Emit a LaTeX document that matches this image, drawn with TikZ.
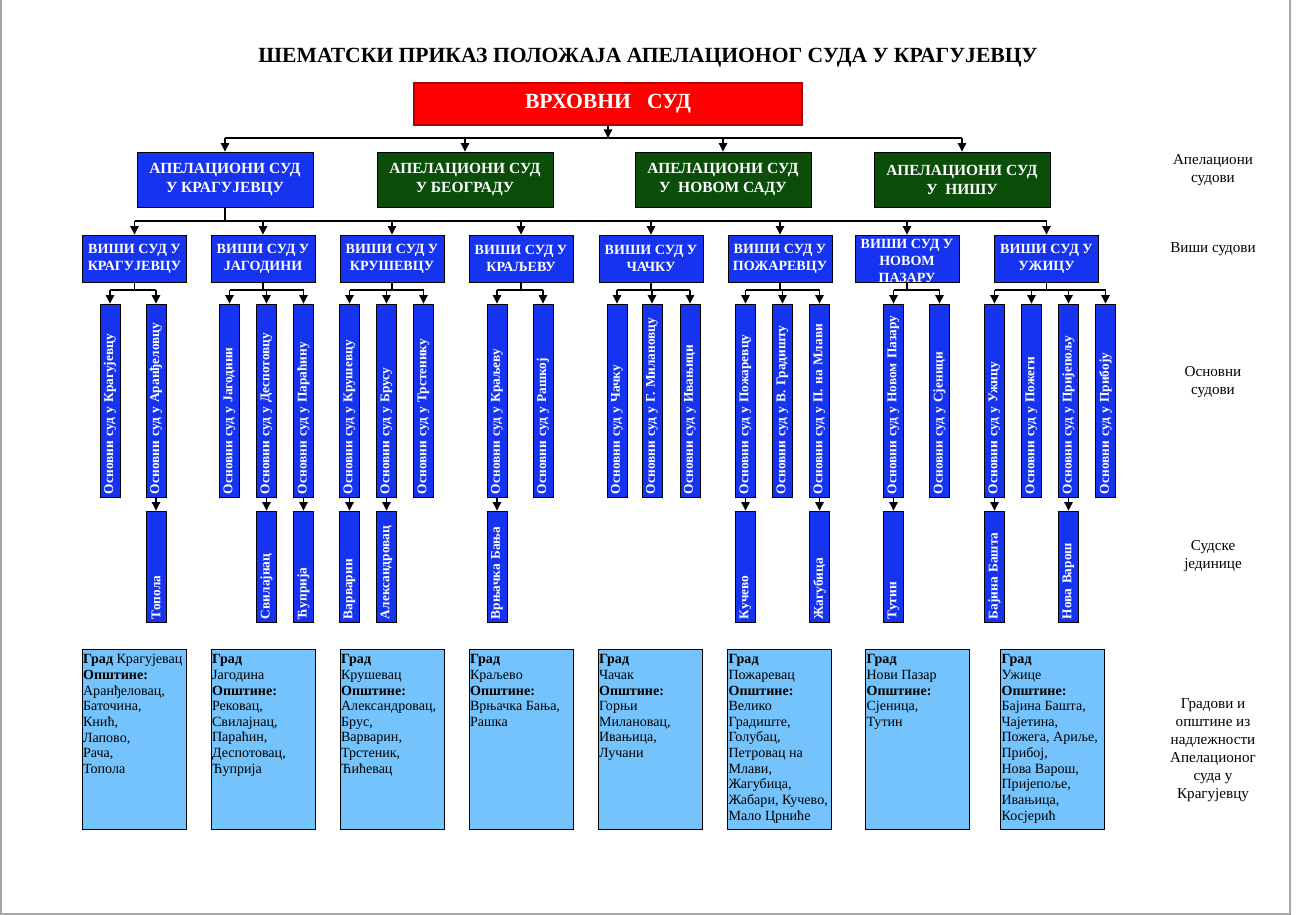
\documentclass[tikz,border=0pt]{standalone}
\usepackage{fontspec}
\setmainfont{Liberation Serif}
\usetikzlibrary{arrows.meta}

\definecolor{sudplava}{RGB}{22,52,240}
\definecolor{sudzelena}{RGB}{10,78,10}
\definecolor{gradplava}{RGB}{116,195,252}

\newcommand\uspravno[1]{\makebox[0pt][l]{#1}}

\tikzset{
  strelica/.style={-{Triangle[length=1.7mm,width=1.7mm]}},
  apel/.style={draw=black, line width=0.5pt, fill=#1, text=white, align=center,
    font=\bfseries\fontsize{8.8}{10.8}\selectfont, minimum width=35.2mm, minimum height=11mm, inner sep=0pt},
  visi/.style={draw=black, line width=0.5pt, fill=sudplava, text=white, align=center,
    font=\bfseries\fontsize{8}{9.7}\selectfont, minimum width=20.8mm, minimum height=9.4mm, inner sep=0pt},
  osn/.style={draw=black, line width=0.5pt, fill=sudplava, text=white, rotate=90,
    font=\bfseries\fontsize{7.6}{9}\selectfont, minimum height=4mm, inner ysep=0pt, inner xsep=0.6mm,
    text width=37.4mm, align=left},
  jed/.style={osn, text width=21mm},
  grad/.style={draw=black, line width=0.5pt, fill=gradplava, minimum width=20.8mm, minimum height=36mm, inner sep=0pt},
  gradtekst/.style={anchor=north west, align=left, inner xsep=0.2mm, inner ysep=1.1mm,
    font=\fontsize{8}{8.9}\selectfont},
  opis/.style={align=center, font=\fontsize{8.6}{10.2}\selectfont},
}

\begin{document}
\begin{tikzpicture}[x=0.2mm, y=-0.2mm, line width=0.6pt]
  \useasboundingbox (0,0) rectangle (1297,915);
  % rub stranice
  \draw[black!35, line width=0.8pt] (1,0) -- (1,914) -- (1290,914) -- (1290,0);

  % Naslov i Vrhovni sud
  \node[font=\bfseries\fontsize{12.3}{14}\selectfont] (naslov) at (648,58)
    {ШЕМАТСКИ ПРИКАЗ ПОЛОЖАЈА АПЕЛАЦИОНОГ СУДА У КРАГУЈЕВЦУ};
  \node[draw=red!70!black, fill=red, text=white, minimum width=77.6mm, minimum height=8.4mm,
    font=\bfseries\fontsize{12.3}{14}\selectfont] (vrhovni) at (608,104) {ВРХОВНИ\ \ \ СУД};

  % Apelacioni sudovi
  \node[apel=sudplava] (as1) at (225,179.5) {АПЕЛАЦИОНИ СУД\\У КРАГУЈЕВЦУ};
  \node[apel=sudzelena] (as2) at (465,179.5) {АПЕЛАЦИОНИ СУД\\У БЕОГРАДУ};
  \node[apel=sudzelena] (as3) at (723,179.5) {АПЕЛАЦИОНИ СУД\\У\ \ НОВОМ САДУ};
  \node[apel=sudzelena] (as4) at (962,179.5) {АПЕЛАЦИОНИ СУД\\У\ \ НИШУ};
  \coordinate (s1) at (0,138);
  \draw[strelica] (vrhovni.south) -- (vrhovni.south |- s1);
  \draw (as1.north |- s1) -- (as4.north |- s1);
  \foreach \i in {1,...,4}
    \draw[strelica] (as\i.north |- s1) -- (as\i.north);

  % Visi sudovi
  \foreach \i/\x/\ime in {1/134.5/КРАГУЈЕВЦУ, 2/263/ЈАГОДИНИ, 3/392/КРУШЕВЦУ, 4/521/КРАЉЕВУ,
      5/651/ЧАЧКУ, 6/780/ПОЖАРЕВЦУ, 8/1046.5/УЖИЦУ}
    \node[visi] (vs\i) at (\x,258.5) {ВИШИ СУД У\\\ime};
  \node[visi] (vs7) at (907,258.5) {};
  \node[visi, draw=none, fill=none, minimum size=0pt] (vs7t) at (907,261) {ВИШИ СУД У\\НОВОМ\\ПАЗАРУ};
  \coordinate (s2) at (0,221);
  \draw (as1.south) -- (as1.south |- s2);
  \draw (vs1.north |- s2) -- (vs8.north |- s2);
  \foreach \i in {1,...,8}
    \draw[strelica] (vs\i.north |- s2) -- (vs\i.north);

  % Osnovni sudovi
  \foreach \i/\x/\ime in {1/110/Крагујевцу, 2/156/Аранђеловцу, 3/229.5/Јагодини, 4/266.5/Деспотовцу,
      5/303.5/Параћину, 6/349.5/Крушевцу, 7/386.5/Брусу, 8/423.5/Трстенику, 9/497/Краљеву,
      10/543/Рашкој, 11/617/Чачку, 12/652/Г. Милановцу, 13/690/Ивањици, 14/745.5/Пожаревцу,
      15/782.5/В. Градишту, 16/819.5/П. на Млави, 17/893.5/Новом Пазару, 18/939.5/Сјеници,
      19/994.5/Ужицу, 20/1031.5/Пожеги, 21/1068.5/Пријепољу, 22/1105.5/Прибоју}
    \node[osn] (o\i) at (\x,400.5) {\uspravno{Основни суд у \ime}};
  \coordinate (s3) at (0,290);
  \foreach \v/\a/\b in {1/1/2, 2/3/5, 3/6/8, 4/9/10, 5/11/13, 6/14/16, 7/17/18, 8/19/22}{
    \draw (vs\v.south) -- (vs\v.south |- s3);
    \draw (o\a.east |- s3) -- (o\b.east |- s3);
  }
  \foreach \i in {1,...,22}
    \draw[strelica] (o\i.east |- s3) -- (o\i.east);

  % Sudske jedinice
  \coordinate (s4) at (0,566.5);
  \foreach \i/\o/\ime in {1/2/Топола, 2/4/Свилајнац, 3/5/Ћуприја, 4/6/Варварин, 5/7/Александровац,
      6/9/Врњачка Бања, 7/14/Кучево, 8/16/Жагубица, 9/17/Тутин, 10/19/Бајина Башта, 11/21/Нова Варош}{
    \node[jed] (j\i) at (o\o |- s4) {\uspravno{\ime}};
    \draw[strelica] (o\o.west) -- (j\i.east);
  }

  % Gradovi i opstine
  \foreach \i/\x in {1/134, 2/263, 3/392, 4/521, 5/650, 6/779.5, 7/917.5, 8/1052.5}
    \node[grad] (g\i) at (\x,739) {};
  \node[gradtekst] (g1t) at (g1.north west) {\textbf{Град} Крагујевац\\\textbf{Општине:}\\Аранђеловац,\\Баточина,\\Кнић,\\Лапово,\\Рача,\\Топола};
  \node[gradtekst] (g2t) at (g2.north west) {\textbf{Град}\\Јагодина\\\textbf{Општине:}\\Рековац,\\Свилајнац,\\Параћин,\\Деспотовац,\\Ћуприја};
  \node[gradtekst] (g3t) at (g3.north west) {\textbf{Град}\\Крушевац\\\textbf{Општине:}\\Александровац,\\Брус,\\Варварин,\\Трстеник,\\Ћићевац};
  \node[gradtekst] (g4t) at (g4.north west) {\textbf{Град}\\Краљево\\\textbf{Општине:}\\Врњачка Бања,\\Рашка};
  \node[gradtekst] (g5t) at (g5.north west) {\textbf{Град}\\Чачак\\\textbf{Општине:}\\Горњи\\Милановац,\\Ивањица,\\Лучани};
  \node[gradtekst] (g6t) at (g6.north west) {\textbf{Град}\\Пожаревац\\\textbf{Општине:}\\Велико\\Градиште,\\Голубац,\\Петровац на\\Млави,\\Жагубица,\\Жабари, Кучево,\\Мало Црниће};
  \node[gradtekst] (g7t) at (g7.north west) {\textbf{Град}\\Нови Пазар\\\textbf{Општине:}\\Сјеница,\\Тутин};
  \node[gradtekst] (g8t) at (g8.north west) {\textbf{Град}\\Ужице\\\textbf{Општине:}\\Бајина Башта,\\Чајетина,\\Пожега, Ариље,\\Прибој,\\Нова Варош,\\Пријепоље,\\Ивањица,\\Косјерић};

  % Nivoi
  \node[opis] (n1) at (1213,170) {Апелациони\\судови};
  \node[opis] (n2) at (1213,249) {Виши судови};
  \node[opis] (n3) at (1213,382) {Основни\\судови};
  \node[opis] (n4) at (1213,556) {Судске\\јединице};
  \node[opis] (n5) at (1213,750) {Градови и\\општине из\\надлежности\\Апелационог\\суда у\\Крагујевцу};
\end{tikzpicture}
\end{document}
